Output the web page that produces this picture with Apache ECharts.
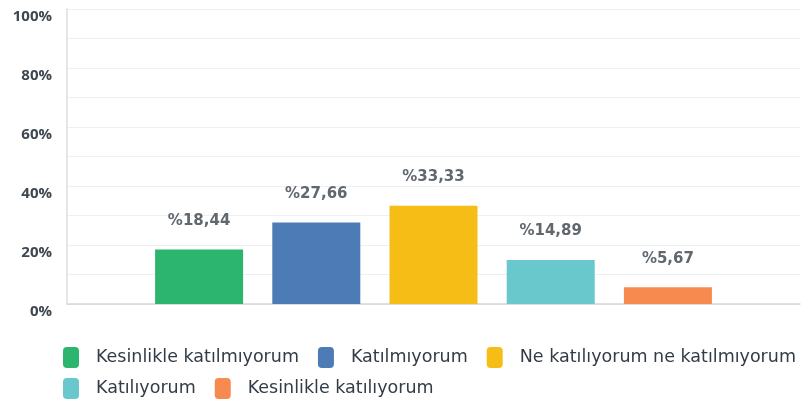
<!DOCTYPE html>
<html>
<head>
<meta charset="utf-8">
<script src="https://cdn.jsdelivr.net/npm/echarts@6/dist/echarts.min.js"></script>
<style>
  html, body { margin: 0; padding: 0; background: #fff; }
  #chart { width: 804px; height: 406px; }
</style>
</head>
<body>
<div id="chart"></div>
<script>
var categories = ['Kesinlikle katılmıyorum', 'Katılmıyorum', 'Ne katılıyorum ne katılmıyorum', 'Katılıyorum', 'Kesinlikle katılıyorum'];
var values = [18.44, 27.66, 33.33, 14.89, 5.67];
var colors = ['#2cb56e', '#4c7bb6', '#f7bd17', '#68c8cc', '#f78a4f'];
var yTicks = [0, 20, 40, 60, 80, 100];

var font = 'Open Sans';
var wideFont = 'DejaVu Sans';

// one series per answer so the legend can list them, stacked so they sit centred
var series = categories.map(function (name, i) {
  return {
    name: name,
    type: 'bar',
    xAxisIndex: 1,
    yAxisIndex: 1,
    stack: 'all',
    barWidth: 88,
    itemStyle: { color: colors[i] },
    label: {
      show: true,
      position: 'top',
      distance: 21,
      fontFamily: wideFont,
      fontSize: 15,
      fontWeight: 'bold',
      color: '#60676f',
      formatter: function (p) { return '%' + p.value.toFixed(2).replace('.', ','); }
    },
    data: values.map(function (v, j) { return j === i ? v : '-'; })
  };
});

var legendText = { fontFamily: wideFont, fontSize: 17.5, color: '#333c46', padding: [0, 0, 0, 12] };

var myChart = echarts.init(document.getElementById('chart'));
var option = {
  animation: false,
  grid: [
    { left: 67, right: 4, top: 9, bottom: 102 },
    { left: 140.5, right: 77.5, top: 9, bottom: 102 }
  ],
  xAxis: [
    {
      gridIndex: 0, type: 'category', data: [],
      axisLine: { lineStyle: { color: '#d4d6d8', width: 1.5 } },
      axisTick: { show: false }, axisLabel: { show: false }
    },
    {
      gridIndex: 1, type: 'category', data: categories,
      axisLine: { show: false }, axisTick: { show: false }, axisLabel: { show: false }
    }
  ],
  yAxis: [
    {
      gridIndex: 0, type: 'value', min: 0, max: 100, interval: 10,
      axisLine: { show: true, lineStyle: { color: '#dcdee0', width: 1.5 } },
      axisTick: { show: false },
      splitLine: { lineStyle: { color: '#eef0f2' } },
      axisLabel: {
        margin: 15,
        verticalAlign: 'top',
        fontFamily: font,
        fontSize: 15,
        fontWeight: 700,
        color: '#3e4650',
        formatter: function (v) { return yTicks.indexOf(v) >= 0 ? v + '%' : ''; }
      }
    },
    {
      gridIndex: 1, type: 'value', min: 0, max: 100, show: false
    }
  ],
  legend: [
    {
      data: categories.slice(0, 3),
      left: 63, top: 347, padding: 0,
      icon: 'roundRect', itemWidth: 16, itemHeight: 21, itemGap: 19,
      textStyle: legendText
    },
    {
      data: categories.slice(3),
      left: 63, top: 378, padding: 0,
      icon: 'roundRect', itemWidth: 16, itemHeight: 21, itemGap: 19,
      textStyle: legendText
    }
  ],
  series: series
};

myChart.setOption(option);
</script>
</body>
</html>
